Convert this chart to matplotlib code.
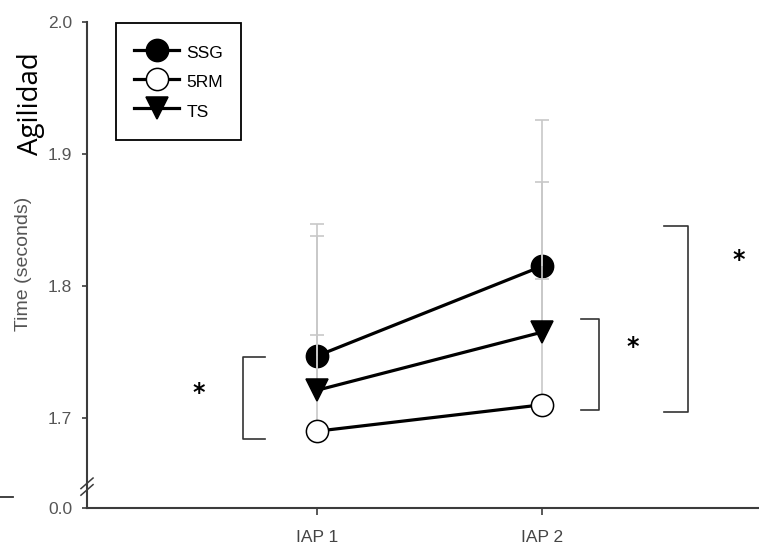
import numpy as np
import matplotlib
matplotlib.use("Agg")
import matplotlib.pyplot as plt
from matplotlib.lines import Line2D

plt.rcParams['font.family'] = ['Liberation Sans', 'DejaVu Sans']

# --- data -------------------------------------------------------------
sessions = ["IAP 1", "IAP 2"]
x_pos = [1, 2]
groups = ["SSG", "5RM", "TS"]
means = {
    "SSG": [1.747, 1.815],
    "5RM": [1.690, 1.710],
    "TS":  [1.721, 1.765],
}
# upper standard deviation (only drawn upwards)
sd_up = {
    "SSG": [0.100, 0.111],
    "5RM": [0.073, 0.095],
    "TS":  [0.117, 0.114],
}
ytick_vals = [1.7, 1.8, 1.9, 2.0]
zero_pos = 1.6318          # where the broken axis puts 0.0
break_pos = 1.6455

# significance brackets: (x of open end, x of spine, y top, y bottom, star x, star y)
brackets = [
    (0.769, 0.671, 1.7462, 1.6841, 0.4756, 1.7189),
    (2.173, 2.253, 1.7750, 1.7060, 2.404, 1.7538),
    (2.542, 2.649, 1.8455, 1.7045, 2.876, 1.8197),
]

# --- figure -----------------------------------------------------------
W, H = 759, 547
fig = plt.figure(figsize=(W / 100, H / 100), dpi=100)
ax = fig.add_axes([87 / W, (H - 508) / H, (W - 87) / W, (508 - 22) / H])

styles = {
    "SSG": dict(marker="o", mfc="black", zorder=2),
    "5RM": dict(marker="o", mfc="white", zorder=4),
    "TS":  dict(marker="v", mfc="black", zorder=4),
}

# upward-only error bars
for g in groups:
    tops = np.array(means[g]) + np.array(sd_up[g])
    ax.vlines(x_pos, means[g], tops, color="#c8c8c8", lw=1.2, zorder=3)
    ax.plot(x_pos, tops, ls="none", marker="_", ms=9.4, mew=1.2,
            color="#c8c8c8", zorder=3)

handles = []
for g in groups:
    st = styles[g]
    ln, = ax.plot(x_pos, means[g], color="black", lw=2.3, marker=st["marker"],
                  ms=16, mfc=st["mfc"], mec="black", mew=1.1,
                  zorder=st["zorder"], label=g)
    handles.append(ln)

# brackets and stars
for x_open, x_spine, y_top, y_bot, sx, sy in brackets:
    ax.plot([x_open, x_spine, x_spine, x_open], [y_top, y_top, y_bot, y_bot],
            color="#333333", lw=1.2, zorder=1)
    ax.text(sx, sy, "*", fontsize=17, fontweight="bold", ha="center",
            va="center", color="black", family="DejaVu Sans")

ax.set_xlim(-0.0222, 2.9644)
ax.set_ylim(zero_pos, 2.0)
ax.set_xticks(x_pos)
ax.set_xticklabels(sessions)
ax.set_yticks([zero_pos] + ytick_vals)
ax.set_yticklabels(["0.0"] + [f"{v:.1f}" for v in ytick_vals])

for s in ["top", "right"]:
    ax.spines[s].set_visible(False)
for s in ["left", "bottom"]:
    ax.spines[s].set_linewidth(1.5)
    ax.spines[s].set_color("#3c3c3c")

ax.tick_params(axis="y", direction="out", length=3.6, width=1.2,
               color="#3c3c3c", labelsize=12.5, labelcolor="#555555", pad=7)
ax.tick_params(axis="x", direction="out", length=5, width=1.2,
               color="#3c3c3c", labelsize=12.5, labelcolor="#444444", pad=11)

ax.set_ylabel("Time (seconds)", fontsize=14, color="#555555")
ax.yaxis.set_label_coords(-0.082, 0.502)

# axis break marks on the y spine
for dy in (0.0, 0.005):
    ax.plot([-0.009, 0.009], [break_pos - 0.004 + dy, break_pos + 0.004 + dy],
            transform=ax.get_yaxis_transform(), color="#3c3c3c", lw=1.1,
            clip_on=False)

leg = ax.legend(handles=handles, loc="upper left",
                bbox_to_anchor=(116 / W, 1 - 23 / H),
                bbox_transform=fig.transFigure, borderaxespad=0,
                fancybox=False, edgecolor="black", framealpha=1,
                fontsize=12.5, handlelength=2.6, handleheight=1.6,
                handletextpad=0.4, labelspacing=0.4, borderpad=1.05,
                markerscale=1.0)
leg.get_frame().set_linewidth(1.3)

fig.text(31 / W, 1 - 104 / H, "Agilidad", rotation=90, ha="center",
         va="center", fontsize=20, family="Open Sans", color="black")

fig.add_artist(Line2D([0, 13 / W], [1 - 497 / H, 1 - 497 / H],
                      color="#333333", lw=1.3))

fig.savefig("out.png", dpi=100)
